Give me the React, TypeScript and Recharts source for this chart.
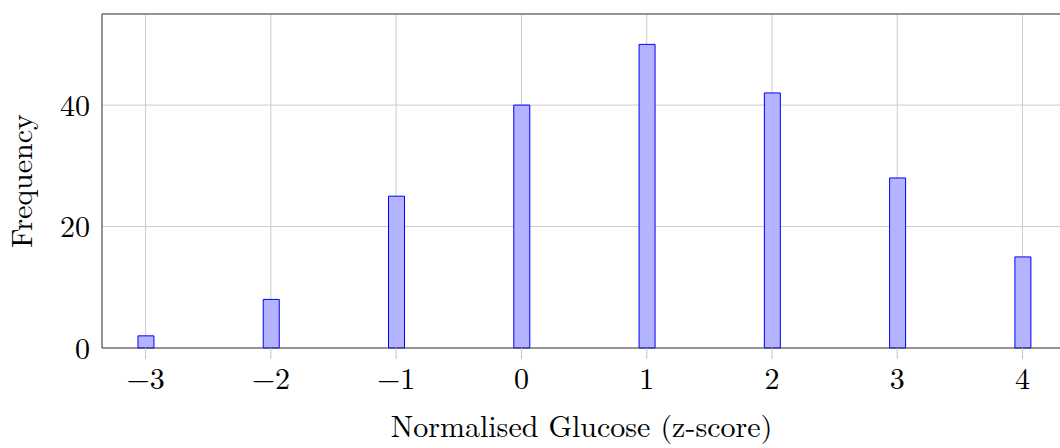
import { BarChart, Bar, XAxis, YAxis, CartesianGrid } from "recharts";

// histogram of normalised glucose values
const zScores = [-3, -2, -1, 0, 1, 2, 3, 4];
const frequencies = [2, 8, 25, 40, 50, 42, 28, 15];
const yTicks = [0, 20, 40];

const data = zScores.map((z, i) => ({ z, freq: frequencies[i] }));

const FONT = "'Latin Modern Roman', 'CMU Serif', 'Liberation Serif', serif";
const FS = 30;
const xDomain = [-3.348, 4.307];
const yDomain = [0, 55];

const minus = (v: number) => String(v).replace("-", "\u2212");

export default function App() {
  return (
    <div style={{ position: "fixed", left: 0, top: 0, width: 1060, height: 448, overflow: "hidden", background: "#fff" }}>
      <BarChart width={1061} height={448} data={data} margin={{ top: 0, right: 0, bottom: 0, left: 0 }} barSize={16}>
        <CartesianGrid stroke="#cccccc" strokeWidth={1} />
        <XAxis
          xAxisId="top"
          orientation="top"
          type="number"
          dataKey="z"
          domain={xDomain}
          ticks={zScores}
          height={14}
          tick={false}
          tickSize={11}
          tickLine={{ stroke: "#c4c4c4" }}
          axisLine={{ stroke: "#444" }}
        />
        <XAxis
          type="number"
          dataKey="z"
          domain={xDomain}
          ticks={zScores}
          height={100}
          tickSize={11}
          tickMargin={9}
          tickFormatter={minus}
          tickLine={{ stroke: "#c4c4c4" }}
          axisLine={{ stroke: "#444" }}
          tick={{ fill: "#000", fontSize: FS, fontFamily: FONT }}
          label={{ value: "Normalised Glucose (z-score)", position: "insideBottom", offset: 11, fill: "#000", fontSize: FS, fontFamily: FONT }}
        />
        <YAxis
          type="number"
          domain={yDomain}
          ticks={yTicks}
          width={102}
          tickSize={0}
          tickMargin={12}
          tickLine={false}
          axisLine={{ stroke: "#444" }}
          tick={{ fill: "#000", fontSize: FS, fontFamily: FONT }}
          label={{ value: "Frequency", angle: -90, position: "insideLeft", offset: 21, fill: "#000", fontSize: FS, fontFamily: FONT, style: { textAnchor: "middle" } }}
        />
        <YAxis
          yAxisId="leftTicks"
          mirror
          type="number"
          domain={yDomain}
          ticks={yTicks}
          width={0}
          tick={false}
          tickSize={11}
          tickLine={{ stroke: "#555" }}
          axisLine={false}
        />
        <YAxis
          yAxisId="rightTicks"
          orientation="right"
          mirror
          type="number"
          domain={yDomain}
          ticks={yTicks}
          width={0}
          tick={false}
          tickSize={11}
          tickLine={{ stroke: "#555" }}
          axisLine={false}
        />
        <Bar dataKey="freq" fill="#b3b3ff" stroke="#0000ff" strokeWidth={1} isAnimationActive={false} />
      </BarChart>
    </div>
  );
}
